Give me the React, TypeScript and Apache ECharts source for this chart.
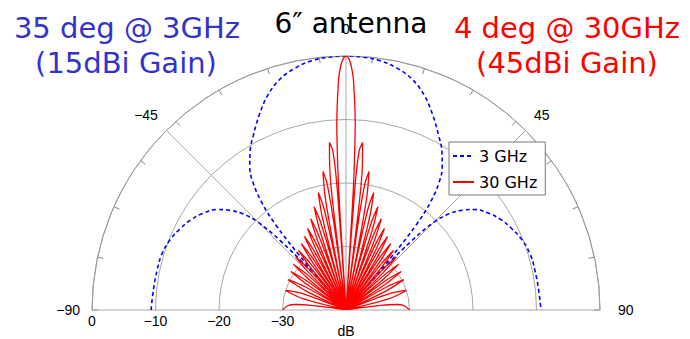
import React, { useEffect, useRef } from 'react';
import * as echarts from 'echarts';

// ---- data (one half; the pattern is symmetric) ----
const angleLabelValues = [-90, -45, 0, 45, 90];
const radialTickValues = [-40, -30, -20, -10, 0];

// 3 GHz pattern: angle (deg) and level (dB), 0..90 deg
const blueAngles = [0, 4, 8, 12, 16, 20, 24, 28, 31, 34, 36, 38, 39.5, 40.5, 41.3, 42.2, 43.5, 45, 47, 49.5, 52, 56, 60, 64, 68, 73, 78, 84, 90];
const blueDb = [0, -0.1, -0.4, -1.1, -2.2, -4.0, -6.4, -8.9, -10.7, -12.9, -15.0, -18.3, -22.5, -29, -40, -31, -25, -20.5, -17.8, -15.8, -14.3, -12.8, -11.7, -10.9, -10.2, -9.7, -9.6, -9.5, -9.3];

// 30 GHz pattern: angle (deg) and level (dB), 0..90 deg
const redAngles = [
  0, 0.38, 0.94, 1.41, 1.88, 2.82, 3.39, 3.57, 3.76,
  4.14, 4.71, 5.65, 6.59, 7.16, 7.54,
  7.92, 8.49, 9.44, 10.40, 10.97, 11.35,
  11.74, 12.31, 13.28, 14.25, 14.83, 15.22,
  15.61, 16.19, 17.17, 18.16, 18.75, 19.15,
  19.55, 20.15, 21.15, 22.17, 22.78, 23.18,
  23.60, 24.21, 25.25, 26.29, 26.92, 27.35,
  27.77, 28.41, 29.48, 30.57, 31.23, 31.66,
  32.11, 32.78, 33.90, 35.04, 35.73, 36.20,
  36.67, 37.37, 38.56, 39.77, 40.51, 41.01,
  41.51, 42.27, 43.55, 44.86, 45.67, 46.21,
  46.75, 47.58, 48.99, 50.45, 51.34, 51.94,
  52.56, 53.50, 55.10, 56.78, 57.83, 58.55,
  59.27, 60.40, 62.36, 64.46, 66.72,
  67.70, 69.24, 72.07, 75.44, 79.81,
  80.94, 82.23, 83.80, 85.84, 90
];
const redDb = [
  0, -0.14, -0.9, -2.1, -3.9, -10.5, -19.2, -25.6, -40,
  -21.0, -14.9, -13.5, -17.8, -25.7, -40,
  -26.6, -20.0, -17.9, -21.7, -29.4, -40,
  -30.2, -23.4, -21.0, -24.6, -32.1, -40,
  -32.4, -25.5, -23.0, -26.5, -33.9, -40,
  -34.1, -27.2, -24.6, -28.0, -35.4, -40,
  -35.5, -28.5, -25.8, -29.1, -36.5, -40,
  -36.4, -29.4, -26.7, -30.0, -37.4, -40,
  -37.2, -30.2, -27.4, -30.7, -38.0, -40,
  -37.8, -30.8, -28.0, -31.2, -38.6, -40,
  -38.4, -31.3, -28.5, -31.7, -39.0, -40,
  -38.9, -31.8, -29.0, -32.2, -39.5, -40,
  -39.3, -32.2, -29.4, -32.6, -39.9, -40,
  -39.6, -32.5, -29.7, -32.9, -40,
  -39.9, -32.8, -30.0, -33.1, -40,
  -38.0, -34.5, -32.0, -30.8, -30.0
];

const seriesNames = ['3 GHz', '30 GHz'];

// build a full -90..90 table ([radius, angle]) from a symmetric half
function mirrored(angles: number[], db: number[]): number[][] {
  const out: number[][] = [];
  for (let i = angles.length - 1; i > 0; i--) out.push([db[i], -angles[i]]);
  for (let i = 0; i < angles.length; i++) out.push([db[i], angles[i]]);
  return out;
}

const minus = (v: number) => (v < 0 ? '\u2212' + Math.abs(v) : String(v));

export default function App() {
  const ref = useRef<HTMLDivElement>(null);
  useEffect(() => {
    if (!ref.current) return;
    const chart = echarts.init(ref.current, undefined, { renderer: 'svg' });
    const center = [346, 310];
    const R = 254;
    const gridGray = '#a6a6a6';
    const labelFont = 'Liberation Sans';
    const titleFont = '29px "DejaVu Sans"';
    chart.setOption({
      animation: false,
      polar: [
        { center, radius: R },
        { center, radius: R },
      ],
      angleAxis: [
        {
          polarIndex: 0, type: 'value', min: -90, max: 90, interval: 12,
          startAngle: 180, endAngle: 0, clockwise: true,
          axisLine: { show: true, lineStyle: { color: '#999', width: 1 } },
          axisTick: { show: true, inside: true, length: 6, lineStyle: { color: '#888', width: 1 } },
          axisLabel: { show: false },
          splitLine: { show: false },
        },
        {
          polarIndex: 1, type: 'value', min: -90, max: 90, interval: 45,
          startAngle: 180, endAngle: 0, clockwise: true,
          axisLine: { show: false },
          axisTick: { show: false },
          axisLabel: {
            show: true, margin: 12, color: '#000', fontSize: 14, fontFamily: labelFont,
            formatter: (v: number) => {
              if (!angleLabelValues.includes(v)) return '';
              if (v === 0) return '{t|0}';
              if (v === 90) return '{r|90}';
              return minus(v);
            },
            rich: {
              t: { fontSize: 14, fontFamily: labelFont, color: '#000', padding: [0, 0, 8, 0] },
              r: { fontSize: 14, fontFamily: labelFont, color: '#000', padding: [0, 0, 0, 6] },
            },
          },
          splitLine: { show: true, lineStyle: { color: gridGray, width: 1 } },
        },
      ],
      radiusAxis: [
        {
          polarIndex: 0, type: 'value', min: -40, max: 0, interval: 10,
          axisLine: { show: false },
          axisTick: { show: false },
          axisLabel: {
            show: true, margin: 4, color: '#000', fontSize: 14, fontFamily: labelFont,
            formatter: (v: number) => (radialTickValues.includes(v) && v !== -40 ? minus(v) : ''),
          },
          splitLine: { show: true, lineStyle: { color: gridGray, width: 1 } },
        },
        {
          polarIndex: 1, type: 'value', min: -40, max: 0,
          axisLine: { show: false }, axisTick: { show: false },
          axisLabel: { show: false }, splitLine: { show: false },
        },
      ],
      legend: {
        data: seriesNames,
        orient: 'vertical', left: 449, top: 142,
        itemWidth: 21, itemHeight: 14, itemGap: 8,
        padding: [5, 8, 4, 3],
        backgroundColor: '#fff', borderColor: '#777', borderWidth: 1,
        itemStyle: { opacity: 0, borderWidth: 0 },
        textStyle: { fontSize: 16, fontFamily: 'DejaVu Sans', color: '#000', lineHeight: 18 },
      },
      series: [
        {
          name: seriesNames[0], type: 'line', coordinateSystem: 'polar', polarIndex: 0,
          data: mirrored(blueAngles, blueDb), symbol: 'none', smooth: 0.4,
          lineStyle: { color: '#0000ff', width: 1.6, type: [4, 3] },
          itemStyle: { color: '#0000ff' }, z: 3,
        },
        {
          name: seriesNames[1], type: 'line', coordinateSystem: 'polar', polarIndex: 0,
          data: mirrored(redAngles, redDb), symbol: 'none', smooth: 0.3,
          lineStyle: { color: '#ff0000', width: 1.3 },
          itemStyle: { color: '#ff0000' }, z: 4,
        },
      ],
      graphic: [
        { type: 'text', z: 10, style: { text: '35 deg @ 3GHz', x: 127, y: 28, textAlign: 'center', textVerticalAlign: 'middle', fill: '#3333cc', font: titleFont } },
        { type: 'text', z: 10, style: { text: '(15dBi Gain)', x: 126, y: 63, textAlign: 'center', textVerticalAlign: 'middle', fill: '#3333cc', font: titleFont } },
        { type: 'text', z: 10, style: { text: '4 deg @ 30GHz', x: 567, y: 28, textAlign: 'center', textVerticalAlign: 'middle', fill: '#ff0000', font: titleFont } },
        { type: 'text', z: 10, style: { text: '(45dBi Gain)', x: 567, y: 63, textAlign: 'center', textVerticalAlign: 'middle', fill: '#ff0000', font: titleFont } },
        { type: 'text', z: 10, style: { text: '6\u2033 antenna', x: 351, y: 23, textAlign: 'center', textVerticalAlign: 'middle', fill: '#000', font: '28px "DejaVu Sans"' } },
        { type: 'text', z: 10, style: { text: 'dB', x: 346, y: 331, textAlign: 'center', textVerticalAlign: 'middle', fill: '#000', font: '14px "Liberation Sans"' } },
      ],
    });
    return () => chart.dispose();
  }, []);
  return <div ref={ref} style={{ position: 'absolute', left: 0, top: 0, width: 690, height: 339 }} />;
}
